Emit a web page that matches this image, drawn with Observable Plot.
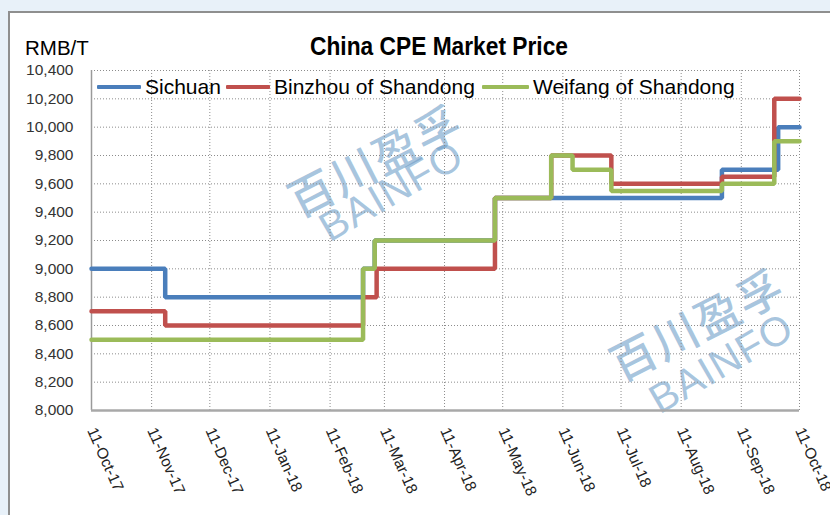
<!DOCTYPE html>
<html>
<head>
<meta charset="utf-8">
<script src="https://cdn.jsdelivr.net/npm/d3@7"></script>
<script src="https://cdn.jsdelivr.net/npm/@observablehq/plot@0.6"></script>
<style>
  html, body { margin: 0; padding: 0; }
  body { width: 830px; height: 515px; overflow: hidden; background: #e8f1f9; position: relative; font-family: "Liberation Sans", Arial, sans-serif; }
  #panel { position: absolute; left: 8px; top: 11px; width: 840px; height: 520px; background: #fff; border-left: 2px solid #8f8f8f; border-top: 2px solid #8f8f8f; }
  #chart { position: absolute; left: 0; top: 0; }
  .wm { position: absolute; white-space: nowrap; color: rgba(110, 158, 200, 0.6); transform-origin: center center; }
  .wm.cn { font-family: "Noto Sans CJK SC", sans-serif; font-size: 45px; font-weight: 500; letter-spacing: 2px; }
  .wm.en { font-family: "Liberation Sans", Arial, sans-serif; font-size: 41px; letter-spacing: 1px; }
  #title { position: absolute; left: 0; width: 878px; top: 33px; text-align: center; font-weight: bold; font-size: 26px; line-height: 26px; color: #000; transform: scaleX(0.875); transform-origin: 439px 0; }
  #unit { position: absolute; left: 25px; top: 37px; font-size: 20.5px; line-height: 22px; color: #000; }
  .lg-sw { position: absolute; height: 4px; top: 85px; border-radius: 1px; }
  .lg-tx { position: absolute; top: 75px; font-size: 21px; line-height: 24px; color: #000; white-space: nowrap; }
</style>
</head>
<body>
<div id="panel"></div>
<div class="wm cn" style="left:280px;top:126px;transform:rotate(-27deg);">百川盈孚</div>
<div class="wm en" style="left:312px;top:168px;transform:rotate(-30deg);">BAINFO</div>
<div class="wm cn" style="left:602px;top:290px;transform:rotate(-27deg);">百川盈孚</div>
<div class="wm en" style="left:642px;top:340px;transform:rotate(-30deg);">BAINFO</div>
<div id="title">China CPE Market Price</div>
<div id="unit">RMB/T</div>
<div id="chart"></div>
<div id="legend"></div>
<script>
// ---- data ----
const seriesNames = ["Sichuan", "Binzhou of Shandong", "Weifang of Shandong"];
const seriesColors = ["#4a7ebb", "#c0504d", "#9bbb59"];

const sichuanDates  = ["2017-10-11", "2017-11-18", "2018-02-28", "2018-03-06", "2018-05-07", "2018-09-01", "2018-09-30", "2018-10-11"];
const sichuanValues = [9000, 8800, 9000, 9200, 9500, 9700, 10000, 10000];

const binzhouDates  = ["2017-10-11", "2017-11-18", "2018-02-28", "2018-03-07", "2018-05-07", "2018-06-05", "2018-07-06", "2018-09-01", "2018-09-28", "2018-10-11"];
const binzhouValues = [8700, 8600, 8800, 9000, 9500, 9800, 9600, 9650, 10200, 10200];

const weifangDates  = ["2017-10-11", "2018-02-28", "2018-03-06", "2018-05-07", "2018-06-05", "2018-06-16", "2018-07-06", "2018-09-01", "2018-09-28", "2018-10-11"];
const weifangValues = [8500, 9000, 9200, 9500, 9800, 9700, 9550, 9600, 9900, 9900];

const xTickDates = ["2017-10-11", "2017-11-11", "2017-12-11", "2018-01-11", "2018-02-11", "2018-03-11", "2018-04-11", "2018-05-11", "2018-06-11", "2018-07-11", "2018-08-11", "2018-09-11", "2018-10-11"];
const xTickLabels = ["11-Oct-17", "11-Nov-17", "11-Dec-17", "11-Jan-18", "11-Feb-18", "11-Mar-18", "11-Apr-18", "11-May-18", "11-Jun-18", "11-Jul-18", "11-Aug-18", "11-Sep-18", "11-Oct-18"];
const yTicks = [8000, 8200, 8400, 8600, 8800, 9000, 9200, 9400, 9600, 9800, 10000, 10200, 10400];

// ---- build table ----
const parse = d3.utcParse("%Y-%m-%d");
const seriesDates = [sichuanDates, binzhouDates, weifangDates];
const seriesValues = [sichuanValues, binzhouValues, weifangValues];
const data = seriesNames.flatMap((name, i) =>
  seriesDates[i].map((d, j) => ({ series: name, date: parse(d), value: seriesValues[i][j] })));
const ticks = xTickDates.map(parse);
const labelOf = new Map(ticks.map((t, i) => [+t, xTickLabels[i]]));

const chart = Plot.plot({
  width: 830,
  height: 515,
  marginLeft: 91,
  marginRight: 31,
  marginTop: 70,
  marginBottom: 105,
  style: { background: "transparent", fontFamily: "'Liberation Sans', Arial, sans-serif", overflow: "visible" },
  x: { type: "utc", domain: [ticks[0], ticks[ticks.length - 1]] },
  y: { domain: [yTicks[0], yTicks[yTicks.length - 1]] },
  color: { domain: seriesNames, range: seriesColors },
  marks: [
    Plot.ruleX(ticks, { stroke: "#8c8c8c", strokeDasharray: "1,2", strokeWidth: 1 }),
    Plot.ruleY(yTicks, { stroke: "#8c8c8c", strokeDasharray: "1,2", strokeWidth: 1 }),
    Plot.ruleX([ticks[0]], { stroke: "#9a9a9a", strokeWidth: 1.5 }),
    Plot.ruleY([yTicks[0]], { stroke: "#a8a8a8", strokeWidth: 2.5 }),
    Plot.axisY({ ticks: yTicks, tickFormat: d3.format(","), tickSize: 0, tickPadding: 18, fontSize: 15.5, fill: "#333", label: null }),
    Plot.axisX({ ticks: ticks, tickFormat: d => labelOf.get(+d), tickRotate: 66, tickSize: 0, tickPadding: 18, fontSize: 15.5, fill: "#222", label: null }),
    Plot.line(data, { x: "date", y: "value", z: "series", stroke: "series", curve: "step-after", strokeWidth: 4.5, strokeLinejoin: "miter" })
  ]
});
document.getElementById("chart").appendChild(chart);

// ---- legend ----
const legend = document.getElementById("legend");
const swLeft = [97, 226, 482];
const txLeft = [145, 274, 533];
seriesNames.forEach((name, i) => {
  const sw = document.createElement("div");
  sw.className = "lg-sw";
  sw.style.left = swLeft[i] + "px";
  sw.style.width = (txLeft[i] - swLeft[i] - 4) + "px";
  sw.style.background = seriesColors[i];
  legend.appendChild(sw);
  const tx = document.createElement("div");
  tx.className = "lg-tx";
  tx.style.left = txLeft[i] + "px";
  tx.textContent = name;
  legend.appendChild(tx);
});
</script>
</body>
</html>
